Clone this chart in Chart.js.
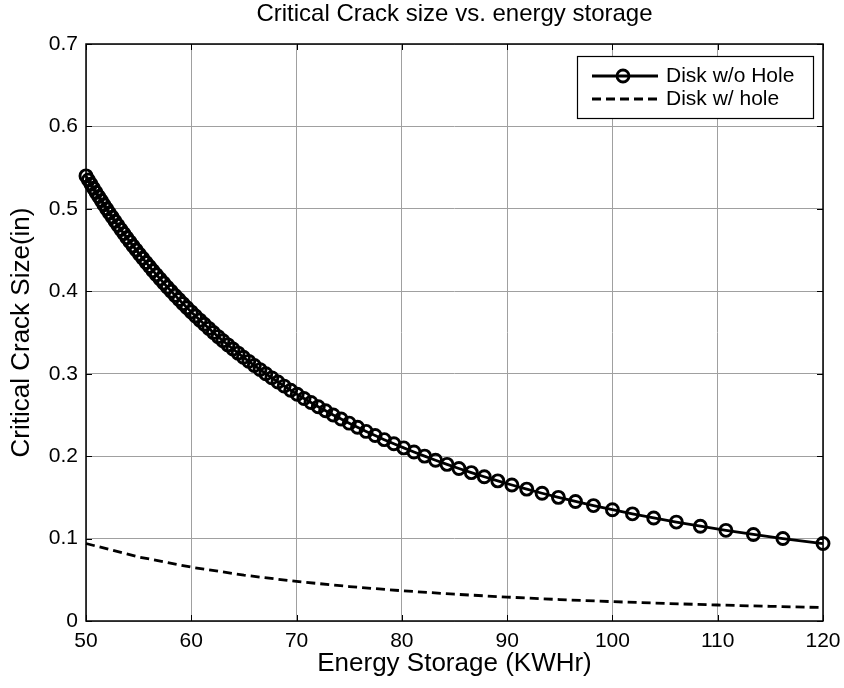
<!DOCTYPE html>
<html>
<head>
<meta charset="utf-8">
<script src="https://cdn.jsdelivr.net/npm/chart.js@4.4.1/dist/chart.umd.min.js"></script>
<style>
  html, body { margin: 0; padding: 0; background: #fff; }
  #wrap { width: 844px; height: 688px; }
</style>
</head>
<body>
<div id="wrap"><canvas id="crackChart" width="844" height="688"></canvas></div>
<script>
// energy storage (KWHr) for each marker of the solid curve
var energyNoHole = [50.00, 50.23, 50.47, 50.71, 50.95, 51.20, 51.45, 51.70, 51.96, 52.22,
  52.49, 52.76, 53.03, 53.31, 53.59, 53.88, 54.17, 54.47, 54.77, 55.08,
  55.39, 55.71, 56.03, 56.36, 56.69, 57.04, 57.38, 57.73, 58.09, 58.46,
  58.83, 59.22, 59.60, 60.00, 60.40, 60.82, 61.24, 61.67, 62.10, 62.55,
  63.01, 63.48, 63.96, 64.45, 64.95, 65.46, 65.99, 66.53, 67.08, 67.65,
  68.23, 68.82, 69.44, 70.06, 70.71, 71.37, 72.06, 72.76, 73.48, 74.23,
  75.00, 75.79, 76.61, 77.46, 78.33, 79.24, 80.18, 81.15, 82.16, 83.20,
  84.29, 85.42, 86.60, 87.83, 89.11, 90.45, 91.86, 93.32, 94.87, 96.49,
  98.20, 100.00, 101.90, 103.92, 106.07, 108.35, 110.78, 113.39, 116.19, 120.00];
var crackNoHole = [0.540, 0.535, 0.530, 0.525, 0.520, 0.515, 0.510, 0.505, 0.500, 0.495,
  0.490, 0.485, 0.480, 0.475, 0.470, 0.465, 0.460, 0.455, 0.450, 0.445,
  0.440, 0.435, 0.430, 0.425, 0.420, 0.415, 0.410, 0.405, 0.400, 0.395,
  0.390, 0.385, 0.380, 0.375, 0.370, 0.365, 0.360, 0.355, 0.350, 0.345,
  0.340, 0.335, 0.330, 0.325, 0.320, 0.315, 0.310, 0.305, 0.300, 0.295,
  0.290, 0.285, 0.280, 0.275, 0.270, 0.265, 0.260, 0.255, 0.250, 0.245,
  0.240, 0.235, 0.230, 0.225, 0.220, 0.215, 0.210, 0.205, 0.200, 0.195,
  0.190, 0.185, 0.180, 0.175, 0.170, 0.165, 0.160, 0.155, 0.150, 0.145,
  0.140, 0.135, 0.130, 0.125, 0.120, 0.115, 0.110, 0.105, 0.100, 0.094];

// dashed curve
var energyHole = [50, 55, 60, 65, 70, 75, 80, 85, 90, 95, 100, 105, 110, 115, 120];
var crackHole = [0.0940, 0.0777, 0.0653, 0.0556, 0.0480, 0.0418, 0.0367, 0.0325,
  0.0290, 0.0260, 0.0235, 0.0213, 0.0194, 0.0178, 0.0163];

var xTicks = [50, 60, 70, 80, 90, 100, 110, 120];
var yTicks = [0, 0.1, 0.2, 0.3, 0.4, 0.5, 0.6, 0.7];
var seriesNames = ['Disk w/o Hole', 'Disk w/ hole'];
var chartTitle = 'Critical Crack size vs. energy storage';

var FONT = '"Liberation Sans", Arial, sans-serif';

function pairs(xs, ys) {
  var out = [];
  for (var i = 0; i < xs.length; i++) out.push({x: xs[i], y: ys[i]});
  return out;
}

// box, inward ticks, title and legend like the matlab figure
var matlabAxes = {
  id: 'matlabAxes',
  afterDraw: function(chart) {
    var c = chart.ctx, a = chart.chartArea;
    var xs = chart.scales.x, ys = chart.scales.y;
    c.save();
    c.strokeStyle = '#000';
    c.lineWidth = 1.5;
    c.strokeRect(a.left, a.top, a.right - a.left, a.bottom - a.top);
    c.lineWidth = 1;
    c.beginPath();
    xTicks.forEach(function(v) {
      var px = Math.round(xs.getPixelForValue(v)) + 0.5;
      c.moveTo(px, a.bottom); c.lineTo(px, a.bottom - 6);
      c.moveTo(px, a.top); c.lineTo(px, a.top + 6);
    });
    yTicks.forEach(function(v) {
      var py = Math.round(ys.getPixelForValue(v)) + 0.5;
      c.moveTo(a.left, py); c.lineTo(a.left + 6, py);
      c.moveTo(a.right, py); c.lineTo(a.right - 6, py);
    });
    c.stroke();

    // title
    c.fillStyle = '#000';
    c.font = '24px ' + FONT;
    c.textAlign = 'center';
    c.textBaseline = 'middle';
    c.fillText(chartTitle, (a.left + a.right) / 2, 14);

    // legend
    var lx = a.right - 246, ly = a.top + 12, lw = 236, lh = 62;
    c.fillStyle = '#fff';
    c.fillRect(lx, ly, lw, lh);
    c.strokeStyle = '#000';
    c.lineWidth = 1.2;
    c.strokeRect(lx + 0.5, ly + 0.5, lw, lh);
    var rows = [ly + 20, ly + 43];
    c.lineWidth = 2.8;
    c.beginPath();
    c.moveTo(lx + 15, rows[0]); c.lineTo(lx + 81, rows[0]);
    c.stroke();
    c.beginPath();
    c.arc(lx + 46, rows[0], 6, 0, Math.PI * 2);
    c.stroke();
    c.setLineDash([9, 5]);
    c.beginPath();
    c.moveTo(lx + 15, rows[1]); c.lineTo(lx + 81, rows[1]);
    c.stroke();
    c.setLineDash([]);
    c.fillStyle = '#000';
    c.font = '21px ' + FONT;
    c.textBaseline = 'middle';
    c.textAlign = 'left';
    c.fillText(seriesNames[0], lx + 89, rows[0]);
    c.fillText(seriesNames[1], lx + 89, rows[1]);
    c.restore();
  }
};

var ctx = document.getElementById('crackChart');
var crackChart = new Chart(ctx, {
  type: 'scatter',
  data: {
    datasets: [{
      label: seriesNames[0],
      data: pairs(energyNoHole, crackNoHole),
      showLine: true,
      borderColor: '#000',
      borderWidth: 2.8,
      pointRadius: 6,
      pointBorderWidth: 2.9,
      pointBorderColor: '#000',
      pointBackgroundColor: 'rgba(0,0,0,0)',
      pointHoverRadius: 6,
      clip: false
    }, {
      label: seriesNames[1],
      data: pairs(energyHole, crackHole),
      showLine: true,
      borderColor: '#000',
      borderWidth: 2.8,
      borderDash: [9, 5],
      pointRadius: 0,
      pointHoverRadius: 0,
      clip: false
    }]
  },
  options: {
    responsive: false,
    animation: false,
    events: [],
    layout: { padding: { left: 0, right: 21, top: 44, bottom: 0 } },
    plugins: {
      legend: { display: false },
      tooltip: { enabled: false },
      title: { display: false }
    },
    scales: {
      x: {
        type: 'linear',
        min: 50, max: 120,
        afterBuildTicks: function(s) { s.ticks = xTicks.map(function(v) { return {value: v}; }); },
        afterFit: function(s) { s.height = 67; s.paddingLeft = 0; s.paddingRight = 0; },
        grid: { color: '#a0a0a0', lineWidth: 1, drawTicks: false },
        border: { display: false },
        ticks: { color: '#000', padding: 8, font: { family: FONT, size: 21 }, maxRotation: 0 },
        title: {
          display: true, text: 'Energy Storage (KWHr)', color: '#000',
          font: { family: FONT, size: 26 }, padding: { top: 0, bottom: 9 }
        }
      },
      y: {
        type: 'linear',
        min: 0, max: 0.7,
        afterBuildTicks: function(s) { s.ticks = yTicks.map(function(v) { return {value: v}; }); },
        afterFit: function(s) { s.width = 86; s.paddingTop = 0; s.paddingBottom = 0; },
        grid: { color: '#a0a0a0', lineWidth: 1, drawTicks: false },
        border: { display: false },
        ticks: { color: '#000', padding: 8, font: { family: FONT, size: 21 } },
        title: {
          display: true, text: 'Critical Crack Size(in)', color: '#000',
          font: { family: FONT, size: 26 }, padding: { top: 6, bottom: 0 }
        }
      }
    }
  },
  plugins: [matlabAxes]
});
</script>
</body>
</html>
